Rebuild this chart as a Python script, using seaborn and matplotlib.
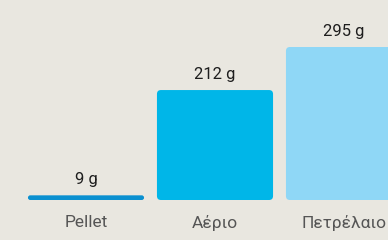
import matplotlib
matplotlib.use("Agg")
import matplotlib.pyplot as plt
from matplotlib.patches import FancyBboxPatch
import seaborn as sns
import pandas as pd

# data
categories = ["Pellet", "Αέριο", "Πετρέλαιο"]
values = [9, 212, 295]
value_labels = ["9 g", "212 g", "295 g"]
colors = ["#0a90d0", "#00b6e8", "#8fd7f6"]

BG = "#e9e7e0"

sns.set_theme(style="white")
plt.rcParams["font.family"] = ["Roboto", "DejaVu Sans"]

df = pd.DataFrame({"cat": categories, "val": values})

fig = plt.figure(figsize=(3.88, 2.40), dpi=100)
fig.patch.set_facecolor(BG)
ax = fig.add_axes([0, 40 / 240, 1, 200 / 240])
ax.set_facecolor(BG)

sns.barplot(data=df, x="cat", y="val", hue="cat", palette=colors,
            saturation=1, width=0.9, legend=False, ax=ax)

ax.set_xlim(-86 / 129, (388 - 86) / 129)
ax.set_ylim(0, 295 * 200 / 153)

# swap the plain rectangles for rounded ones
px_x = 129.0            # pixels per x unit
px_y = 200 / ax.get_ylim()[1]
aspect = px_x / px_y
radius = 4 / px_x
for p in list(ax.patches):
    x0, y0 = p.get_x(), p.get_y()
    w, h = p.get_width(), p.get_height()
    r = min(radius, h / aspect / 2, w / 2)
    fb = FancyBboxPatch((x0, y0), w, h,
                        boxstyle=f"round,pad=0,rounding_size={r}",
                        mutation_aspect=aspect,
                        facecolor=p.get_facecolor(), edgecolor="none")
    p.remove()
    ax.add_patch(fb)

for i, (v, lab) in enumerate(zip(values, value_labels)):
    ax.annotate(lab, (i, v), xytext=(0, 6), textcoords="offset points",
                ha="center", va="bottom", fontsize=12, color="#1e1e1e")

sns.despine(ax=ax, left=True, bottom=True)
ax.set_xlabel("")
ax.set_ylabel("")
ax.set_yticks([])
ax.tick_params(axis="x", length=0, pad=11, labelsize=12.5, labelcolor="#555555")

fig.savefig("out.png", dpi=100, facecolor=BG)
